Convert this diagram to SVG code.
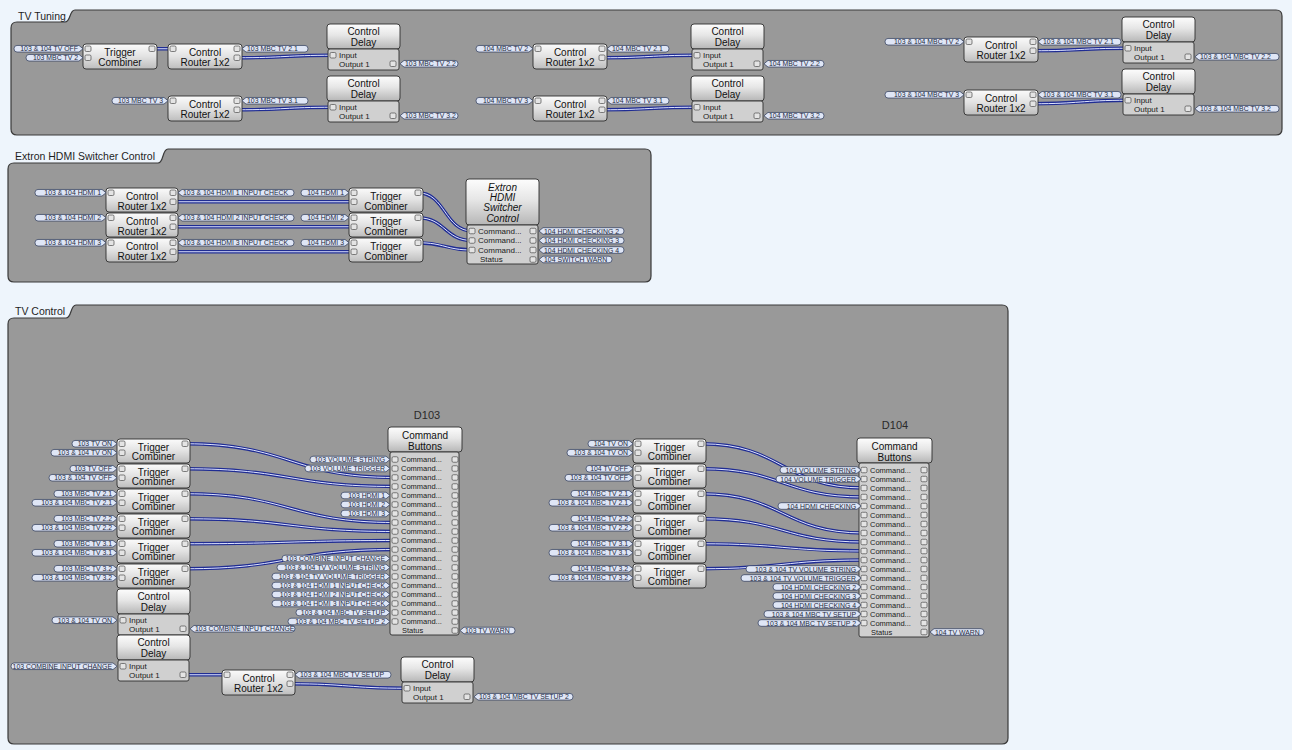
<svg xmlns="http://www.w3.org/2000/svg" xmlns:xlink="http://www.w3.org/1999/xlink" width="1292" height="750" viewBox="0 0 1292 750">
<style>
.bg{fill:#eef5fc}
.grp{fill:#999;stroke:#3a3a3a;stroke-width:1.2}
.gt{font-family:"Liberation Sans",Arial,sans-serif;font-size:10.5px;fill:#1e1e1e}
.nb{fill:url(#ng);stroke:#2e2e2e;stroke-width:.9}
.hd{fill:url(#hg);stroke:#2e2e2e;stroke-width:.9}
.bd{fill:#d0d0d0;stroke:#2e2e2e;stroke-width:.9}
.pt{fill:#e4e4e4;stroke:#4a4a4a;stroke-width:.7}
.nt{font-family:"Liberation Sans",Arial,sans-serif;font-size:10px;fill:#111;text-anchor:middle}
.it{font-style:italic}
.rt{font-family:"Liberation Sans",Arial,sans-serif;font-size:7.5px;fill:#1a1a1a}
.io{font-family:"Liberation Sans",Arial,sans-serif;font-size:8px;fill:#1a1a1a}
.lb{fill:#dfe6f6;stroke:#34405f;stroke-width:.75}
.lt{font-family:"Liberation Sans",Arial,sans-serif;font-size:6.9px;fill:#262b40}
.le{text-anchor:end}
.wo{fill:none;stroke:#1f2c93;stroke-width:3.3;stroke-linecap:round}
.wi{fill:none;stroke:#e0e5ff;stroke-width:1}
.dt{font-family:"Liberation Sans",Arial,sans-serif;font-size:11px;fill:#2a2a2a;text-anchor:middle}
</style>
<defs>
<linearGradient id="ng" x1="0" y1="0" x2="0" y2="1"><stop offset="0" stop-color="#fbfbfb"/><stop offset=".5" stop-color="#e2e2e2"/><stop offset="1" stop-color="#bdbdbd"/></linearGradient>
<linearGradient id="hg" x1="0" y1="0" x2="0" y2="1"><stop offset="0" stop-color="#fdfdfd"/><stop offset=".45" stop-color="#e6e6e6"/><stop offset="1" stop-color="#b6b6b6"/></linearGradient>
<rect id="p" class="pt" width="6" height="5.5" rx="1.3"/>
</defs>
<rect class="bg" x="0" y="0" width="1292" height="750"/>

<g id="groups">
<g id="grp-tv-tuning"><path class="grp" d="M11,28Q11,22 17,22H65C71,22 69,10 75,10H1276Q1282,10 1282,16V129Q1282,135 1276,135H17Q11,135 11,129Z"/><text class="gt" x="18" y="19.5">TV Tuning</text></g>
<g id="grp-extron"><path class="grp" d="M8,169Q8,163 14,163H158C164,163 162,149 168,149H645Q651,149 651,155V276Q651,282 645,282H14Q8,282 8,276Z"/><text class="gt" x="15" y="160">Extron HDMI Switcher Control</text></g>
<g id="grp-tv-control"><path class="grp" d="M8,324Q8,318 14,318H66C72,318 70,305 76,305H1002Q1008,305 1008,311V738Q1008,744 1002,744H14Q8,744 8,738Z"/><text class="gt" x="15" y="315">TV Control</text></g>
</g>

<g id="connectors">
<path class="wo" d="M152,48.75H173"/><path class="wi" d="M152,48.75H173"/>
<path class="wo" d="M237,57.75C285,57.75 285,55.25 333,55.25"/><path class="wi" d="M237,57.75C285,57.75 285,55.25 333,55.25"/>
<path class="wo" d="M237,109.75C285,109.75 285,107.25 333,107.25"/><path class="wi" d="M237,109.75C285,109.75 285,107.25 333,107.25"/>
<path class="wo" d="M602,57.75C649,57.75 649,55.25 697,55.25"/><path class="wi" d="M602,57.75C649,57.75 649,55.25 697,55.25"/>
<path class="wo" d="M602,109.75C649,109.75 649,107.25 697,107.25"/><path class="wi" d="M602,109.75C649,109.75 649,107.25 697,107.25"/>
<path class="wo" d="M1033,50.75C1080,50.75 1080,48.25 1128,48.25"/><path class="wi" d="M1033,50.75C1080,50.75 1080,48.25 1128,48.25"/>
<path class="wo" d="M1033,103.75C1080,103.75 1080,100.25 1128,100.25"/><path class="wi" d="M1033,103.75C1080,103.75 1080,100.25 1128,100.25"/>
<path class="wo" d="M173,201.75H354"/><path class="wi" d="M173,201.75H354"/>
<path class="wo" d="M173,226.75H354"/><path class="wi" d="M173,226.75H354"/>
<path class="wo" d="M173,251.75H354"/><path class="wi" d="M173,251.75H354"/>
<path class="wo" d="M418,192.75C445,192.75 445,231 472,231"/><path class="wi" d="M418,192.75C445,192.75 445,231 472,231"/>
<path class="wo" d="M418,217.75C445,217.75 445,240.5 472,240.5"/><path class="wi" d="M418,217.75C445,217.75 445,240.5 472,240.5"/>
<path class="wo" d="M418,242.75C445,242.75 445,250 472,250"/><path class="wi" d="M418,242.75C445,242.75 445,250 472,250"/>
<path class="wo" d="M185,443.75C290,443.75 290,477.5 395,477.5"/><path class="wi" d="M185,443.75C290,443.75 290,477.5 395,477.5"/>
<path class="wo" d="M185,468.75C290,468.75 290,486.5 395,486.5"/><path class="wi" d="M185,468.75C290,468.75 290,486.5 395,486.5"/>
<path class="wo" d="M185,493.75C290,493.75 290,522.5 395,522.5"/><path class="wi" d="M185,493.75C290,493.75 290,522.5 395,522.5"/>
<path class="wo" d="M185,518.75C290,518.75 290,531.5 395,531.5"/><path class="wi" d="M185,518.75C290,518.75 290,531.5 395,531.5"/>
<path class="wo" d="M185,543.75C290,543.75 290,540.5 395,540.5"/><path class="wi" d="M185,543.75C290,543.75 290,540.5 395,540.5"/>
<path class="wo" d="M185,568.75C290,568.75 290,549.5 395,549.5"/><path class="wi" d="M185,568.75C290,568.75 290,549.5 395,549.5"/>
<path class="wo" d="M701,443.75C783,443.75 783,488 864,488"/><path class="wi" d="M701,443.75C783,443.75 783,488 864,488"/>
<path class="wo" d="M701,468.75C783,468.75 783,497 864,497"/><path class="wi" d="M701,468.75C783,468.75 783,497 864,497"/>
<path class="wo" d="M701,493.75C783,493.75 783,533 864,533"/><path class="wi" d="M701,493.75C783,493.75 783,533 864,533"/>
<path class="wo" d="M701,518.75C783,518.75 783,542 864,542"/><path class="wi" d="M701,518.75C783,518.75 783,542 864,542"/>
<path class="wo" d="M701,543.75C783,543.75 783,551 864,551"/><path class="wi" d="M701,543.75C783,543.75 783,551 864,551"/>
<path class="wo" d="M701,568.75C783,568.75 783,560 864,560"/><path class="wi" d="M701,568.75C783,568.75 783,560 864,560"/>
<path class="wo" d="M183,674.75H227"/><path class="wi" d="M183,674.75H227"/>
<path class="wo" d="M290,683.75C348,683.75 348,688.25 407,688.25"/><path class="wi" d="M290,683.75C348,683.75 348,688.25 407,688.25"/>
</g>

<!-- TV Tuning -->
<g id="tc-t1"><rect class="nb" x="83" y="44" width="74" height="25" rx="3"/><use href="#p" x="85" y="46"/><use href="#p" x="85" y="55"/><use href="#p" x="149" y="46"/><text class="nt" x="120" y="55.5">Trigger</text><text class="nt" x="120" y="65.5">Combiner</text>
<path class="lb" d="M17,45.45H79L83,48.75L79,52.05H17A3 3.3 0 0 1 17,45.45Z"/><text class="lt le" x="78" y="51.25">103 &amp; 104 TV OFF</text>
<path class="lb" d="M29,54.45H79L83,57.75L79,61.05H29A3 3.3 0 0 1 29,54.45Z"/><text class="lt le" x="78" y="60.25">103 MBC TV 2</text></g>
<g id="rt-t1"><rect class="nb" x="168" y="44" width="74" height="25" rx="3"/><use href="#p" x="170" y="46"/><use href="#p" x="234" y="46"/><use href="#p" x="234" y="55"/><text class="nt" x="205" y="55.5">Control</text><text class="nt" x="205" y="65.5">Router 1x2</text>
<path class="lb" d="M242,48.75L246,45.45H305A3 3.3 0 0 1 305,52.05H246Z"/><text class="lt" x="247" y="51.25">103 MBC TV 2.1</text></g>
<g id="dl-t1"><rect class="hd" x="327" y="24" width="73" height="25" rx="3"/><rect class="bd" x="328" y="49" width="71" height="21" rx="2"/><text class="nt" x="363.5" y="35">Control</text><text class="nt" x="363.5" y="46">Delay</text><use href="#p" x="330" y="52.5"/><use href="#p" x="390" y="61"/><text class="io" x="339" y="58">Input</text><text class="io" x="339" y="67">Output 1</text>
<path class="lb" d="M400,63.75L404,60.45H455A3 3.3 0 0 1 455,67.05H404Z"/><text class="lt" x="405" y="66.25">103 MBC TV 2.2</text></g>
<g id="rt-t2"><rect class="nb" x="168" y="96" width="74" height="25" rx="3"/><use href="#p" x="170" y="98"/><use href="#p" x="234" y="98"/><use href="#p" x="234" y="107"/><text class="nt" x="205" y="107.5">Control</text><text class="nt" x="205" y="117.5">Router 1x2</text>
<path class="lb" d="M115,97.45H164L168,100.75L164,104.05H115A3 3.3 0 0 1 115,97.45Z"/><text class="lt le" x="163" y="103.25">103 MBC TV 3</text>
<path class="lb" d="M242,100.75L246,97.45H305A3 3.3 0 0 1 305,104.05H246Z"/><text class="lt" x="247" y="103.25">103 MBC TV 3.1</text></g>
<g id="dl-t2"><rect class="hd" x="327" y="76" width="73" height="25" rx="3"/><rect class="bd" x="328" y="101" width="71" height="21" rx="2"/><text class="nt" x="363.5" y="87">Control</text><text class="nt" x="363.5" y="98">Delay</text><use href="#p" x="330" y="104.5"/><use href="#p" x="390" y="113"/><text class="io" x="339" y="110">Input</text><text class="io" x="339" y="119">Output 1</text>
<path class="lb" d="M400,115.75L404,112.45H455A3 3.3 0 0 1 455,119.05H404Z"/><text class="lt" x="405" y="118.25">103 MBC TV 3.2</text></g>

<g id="rt-t3"><rect class="nb" x="533" y="44" width="74" height="25" rx="3"/><use href="#p" x="535" y="46"/><use href="#p" x="599" y="46"/><use href="#p" x="599" y="55"/><text class="nt" x="570" y="55.5">Control</text><text class="nt" x="570" y="65.5">Router 1x2</text>
<path class="lb" d="M479,45.45H529L533,48.75L529,52.05H479A3 3.3 0 0 1 479,45.45Z"/><text class="lt le" x="528" y="51.25">104 MBC TV 2</text>
<path class="lb" d="M607,48.75L611,45.45H666A3 3.3 0 0 1 666,52.05H611Z"/><text class="lt" x="612" y="51.25">104 MBC TV 2.1</text></g>
<g id="dl-t3"><rect class="hd" x="691" y="24" width="73" height="25" rx="3"/><rect class="bd" x="692" y="49" width="71" height="21" rx="2"/><text class="nt" x="727.5" y="35">Control</text><text class="nt" x="727.5" y="46">Delay</text><use href="#p" x="694" y="52.5"/><use href="#p" x="754" y="61"/><text class="io" x="703" y="58">Input</text><text class="io" x="703" y="67">Output 1</text>
<path class="lb" d="M764,63.75L768,60.45H821A3 3.3 0 0 1 821,67.05H768Z"/><text class="lt" x="769" y="66.25">104 MBC TV 2.2</text></g>
<g id="rt-t4"><rect class="nb" x="533" y="96" width="74" height="25" rx="3"/><use href="#p" x="535" y="98"/><use href="#p" x="599" y="98"/><use href="#p" x="599" y="107"/><text class="nt" x="570" y="107.5">Control</text><text class="nt" x="570" y="117.5">Router 1x2</text>
<path class="lb" d="M479,97.45H529L533,100.75L529,104.05H479A3 3.3 0 0 1 479,97.45Z"/><text class="lt le" x="528" y="103.25">104 MBC TV 3</text>
<path class="lb" d="M607,100.75L611,97.45H666A3 3.3 0 0 1 666,104.05H611Z"/><text class="lt" x="612" y="103.25">104 MBC TV 3.1</text></g>
<g id="dl-t4"><rect class="hd" x="691" y="76" width="73" height="25" rx="3"/><rect class="bd" x="692" y="101" width="71" height="21" rx="2"/><text class="nt" x="727.5" y="87">Control</text><text class="nt" x="727.5" y="98">Delay</text><use href="#p" x="694" y="104.5"/><use href="#p" x="754" y="113"/><text class="io" x="703" y="110">Input</text><text class="io" x="703" y="119">Output 1</text>
<path class="lb" d="M764,115.75L768,112.45H821A3 3.3 0 0 1 821,119.05H768Z"/><text class="lt" x="769" y="118.25">104 MBC TV 3.2</text></g>

<g id="rt-t5"><rect class="nb" x="964" y="37" width="74" height="25" rx="3"/><use href="#p" x="966" y="39"/><use href="#p" x="1030" y="39"/><use href="#p" x="1030" y="48"/><text class="nt" x="1001" y="48.5">Control</text><text class="nt" x="1001" y="58.5">Router 1x2</text>
<path class="lb" d="M888,38.45H960L964,41.75L960,45.05H888A3 3.3 0 0 1 888,38.45Z"/><text class="lt le" x="959" y="44.25">103 &amp; 104 MBC TV 2</text>
<path class="lb" d="M1038,41.75L1042,38.45H1118A3 3.3 0 0 1 1118,45.05H1042Z"/><text class="lt" x="1043" y="44.25">103 &amp; 104 MBC TV 2.1</text></g>
<g id="dl-t5"><rect class="hd" x="1122" y="17" width="73" height="25" rx="3"/><rect class="bd" x="1123" y="42" width="71" height="21" rx="2"/><text class="nt" x="1158.5" y="28">Control</text><text class="nt" x="1158.5" y="39">Delay</text><use href="#p" x="1125" y="45.5"/><use href="#p" x="1185" y="54"/><text class="io" x="1134" y="51">Input</text><text class="io" x="1134" y="60">Output 1</text>
<path class="lb" d="M1195,56.75L1199,53.45H1276A3 3.3 0 0 1 1276,60.05H1199Z"/><text class="lt" x="1200" y="59.25">103 &amp; 104 MBC TV 2.2</text></g>
<g id="rt-t6"><rect class="nb" x="964" y="90" width="74" height="25" rx="3"/><use href="#p" x="966" y="92"/><use href="#p" x="1030" y="92"/><use href="#p" x="1030" y="101"/><text class="nt" x="1001" y="101.5">Control</text><text class="nt" x="1001" y="111.5">Router 1x2</text>
<path class="lb" d="M888,91.45H960L964,94.75L960,98.05H888A3 3.3 0 0 1 888,91.45Z"/><text class="lt le" x="959" y="97.25">103 &amp; 104 MBC TV 3</text>
<path class="lb" d="M1038,94.75L1042,91.45H1118A3 3.3 0 0 1 1118,98.05H1042Z"/><text class="lt" x="1043" y="97.25">103 &amp; 104 MBC TV 3.1</text></g>
<g id="dl-t6"><rect class="hd" x="1122" y="69" width="73" height="25" rx="3"/><rect class="bd" x="1123" y="94" width="71" height="21" rx="2"/><text class="nt" x="1158.5" y="80">Control</text><text class="nt" x="1158.5" y="91">Delay</text><use href="#p" x="1125" y="97.5"/><use href="#p" x="1185" y="106"/><text class="io" x="1134" y="103">Input</text><text class="io" x="1134" y="112">Output 1</text>
<path class="lb" d="M1195,108.75L1199,105.45H1276A3 3.3 0 0 1 1276,112.05H1199Z"/><text class="lt" x="1200" y="111.25">103 &amp; 104 MBC TV 3.2</text></g>

<!-- Extron -->
<g id="rt-e1"><rect class="nb" x="106" y="188" width="72" height="24" rx="3"/><use href="#p" x="108" y="190"/><use href="#p" x="170" y="190"/><use href="#p" x="170" y="199"/><text class="nt" x="142" y="199.5">Control</text><text class="nt" x="142" y="209.5">Router 1x2</text>
<path class="lb" d="M38,189.45H102L106,192.75L102,196.05H38A3 3.3 0 0 1 38,189.45Z"/><text class="lt le" x="101" y="195.25">103 &amp; 104 HDMI 1</text>
<path class="lb" d="M178,192.75L182,189.45H291A3 3.3 0 0 1 291,196.05H182Z"/><text class="lt" x="183" y="195.25">103 &amp; 104 HDMI 1 INPUT CHECK</text></g>
<g id="rt-e2"><rect class="nb" x="106" y="213" width="72" height="24" rx="3"/><use href="#p" x="108" y="215"/><use href="#p" x="170" y="215"/><use href="#p" x="170" y="224"/><text class="nt" x="142" y="224.5">Control</text><text class="nt" x="142" y="234.5">Router 1x2</text>
<path class="lb" d="M38,214.45H102L106,217.75L102,221.05H38A3 3.3 0 0 1 38,214.45Z"/><text class="lt le" x="101" y="220.25">103 &amp; 104 HDMI 2</text>
<path class="lb" d="M178,217.75L182,214.45H291A3 3.3 0 0 1 291,221.05H182Z"/><text class="lt" x="183" y="220.25">103 &amp; 104 HDMI 2 INPUT CHECK</text></g>
<g id="rt-e3"><rect class="nb" x="106" y="238" width="72" height="24" rx="3"/><use href="#p" x="108" y="240"/><use href="#p" x="170" y="240"/><use href="#p" x="170" y="249"/><text class="nt" x="142" y="249.5">Control</text><text class="nt" x="142" y="259.5">Router 1x2</text>
<path class="lb" d="M38,239.45H102L106,242.75L102,246.05H38A3 3.3 0 0 1 38,239.45Z"/><text class="lt le" x="101" y="245.25">103 &amp; 104 HDMI 3</text>
<path class="lb" d="M178,242.75L182,239.45H291A3 3.3 0 0 1 291,246.05H182Z"/><text class="lt" x="183" y="245.25">103 &amp; 104 HDMI 3 INPUT CHECK</text></g>
<g id="tc-e1"><rect class="nb" x="349" y="188" width="74" height="24" rx="3"/><use href="#p" x="351" y="190"/><use href="#p" x="351" y="199"/><use href="#p" x="415" y="190"/><text class="nt" x="386" y="199.5">Trigger</text><text class="nt" x="386" y="209.5">Combiner</text>
<path class="lb" d="M304,189.45H345L349,192.75L345,196.05H304A3 3.3 0 0 1 304,189.45Z"/><text class="lt le" x="344" y="195.25">104 HDMI 1</text></g>
<g id="tc-e2"><rect class="nb" x="349" y="213" width="74" height="24" rx="3"/><use href="#p" x="351" y="215"/><use href="#p" x="351" y="224"/><use href="#p" x="415" y="215"/><text class="nt" x="386" y="224.5">Trigger</text><text class="nt" x="386" y="234.5">Combiner</text>
<path class="lb" d="M304,214.45H345L349,217.75L345,221.05H304A3 3.3 0 0 1 304,214.45Z"/><text class="lt le" x="344" y="220.25">104 HDMI 2</text></g>
<g id="tc-e3"><rect class="nb" x="349" y="238" width="74" height="24" rx="3"/><use href="#p" x="351" y="240"/><use href="#p" x="351" y="249"/><use href="#p" x="415" y="240"/><text class="nt" x="386" y="249.5">Trigger</text><text class="nt" x="386" y="259.5">Combiner</text>
<path class="lb" d="M304,239.45H345L349,242.75L345,246.05H304A3 3.3 0 0 1 304,239.45Z"/><text class="lt le" x="344" y="245.25">104 HDMI 3</text></g>
<g id="extron"><rect class="hd" x="466" y="179" width="73" height="46" rx="3"/><rect class="bd" x="467" y="225" width="71" height="39" rx="2"/>
<text class="nt it" x="502.5" y="190.5">Extron</text><text class="nt it" x="502.5" y="201">HDMI</text><text class="nt it" x="502.5" y="211">Switcher</text><text class="nt it" x="502.5" y="221.5">Control</text>
<use href="#p" x="469" y="228.25"/><use href="#p" x="469" y="237.75"/><use href="#p" x="469" y="247.25"/>
<use href="#p" x="530" y="228.25"/><use href="#p" x="530" y="237.75"/><use href="#p" x="530" y="247.25"/><use href="#p" x="530" y="256.75"/>
<text class="io" x="478" y="233.8">Command...</text><text class="io" x="478" y="243.3">Command...</text><text class="io" x="478" y="252.8">Command...</text><text class="io" x="480" y="262.3">Status</text>
<path class="lb" d="M539,231L543,227.7H621A3 3.3 0 0 1 621,234.3H543Z"/><text class="lt" x="544" y="233.5">104 HDMI CHECKING 2</text>
<path class="lb" d="M539,240.5L543,237.2H621A3 3.3 0 0 1 621,243.8H543Z"/><text class="lt" x="544" y="243">104 HDMI CHECKING 3</text>
<path class="lb" d="M539,250L543,246.7H621A3 3.3 0 0 1 621,253.3H543Z"/><text class="lt" x="544" y="252.5">104 HDMI CHECKING 4</text>
<path class="lb" d="M539,259.5L543,256.2H609A3 3.3 0 0 1 609,262.8H543Z"/><text class="lt" x="544" y="262">104 SWITCH WARN</text></g>

<!-- TV Control: D103 side -->
<g id="tc-a1"><rect class="nb" x="117" y="439" width="73" height="24" rx="3"/><use href="#p" x="119" y="441"/><use href="#p" x="119" y="450"/><use href="#p" x="182" y="441"/><text class="nt" x="153.5" y="450.5">Trigger</text><text class="nt" x="153.5" y="460">Combiner</text>
<path class="lb" d="M75,440.45H113L117,443.75L113,447.05H75A3 3.3 0 0 1 75,440.45Z"/><text class="lt le" x="112" y="446.25">103 TV ON</text>
<path class="lb" d="M54,449.45H113L117,452.75L113,456.05H54A3 3.3 0 0 1 54,449.45Z"/><text class="lt le" x="112" y="455.25">103 &amp; 104 TV ON</text></g>
<g id="tc-a2"><rect class="nb" x="117" y="464" width="73" height="24" rx="3"/><use href="#p" x="119" y="466"/><use href="#p" x="119" y="475"/><use href="#p" x="182" y="466"/><text class="nt" x="153.5" y="475.5">Trigger</text><text class="nt" x="153.5" y="485">Combiner</text>
<path class="lb" d="M73,465.45H113L117,468.75L113,472.05H73A3 3.3 0 0 1 73,465.45Z"/><text class="lt le" x="112" y="471.25">103 TV OFF</text>
<path class="lb" d="M52,474.45H113L117,477.75L113,481.05H52A3 3.3 0 0 1 52,474.45Z"/><text class="lt le" x="112" y="480.25">103 &amp; 104 TV OFF</text></g>
<g id="tc-a3"><rect class="nb" x="117" y="489" width="73" height="24" rx="3"/><use href="#p" x="119" y="491"/><use href="#p" x="119" y="500"/><use href="#p" x="182" y="491"/><text class="nt" x="153.5" y="500.5">Trigger</text><text class="nt" x="153.5" y="510">Combiner</text>
<path class="lb" d="M57,490.45H113L117,493.75L113,497.05H57A3 3.3 0 0 1 57,490.45Z"/><text class="lt le" x="112" y="496.25">103 MBC TV 2.1</text>
<path class="lb" d="M35,499.45H113L117,502.75L113,506.05H35A3 3.3 0 0 1 35,499.45Z"/><text class="lt le" x="112" y="505.25">103 &amp; 104 MBC TV 2.1</text></g>
<g id="tc-a4"><rect class="nb" x="117" y="514" width="73" height="24" rx="3"/><use href="#p" x="119" y="516"/><use href="#p" x="119" y="525"/><use href="#p" x="182" y="516"/><text class="nt" x="153.5" y="525.5">Trigger</text><text class="nt" x="153.5" y="535">Combiner</text>
<path class="lb" d="M57,515.45H113L117,518.75L113,522.05H57A3 3.3 0 0 1 57,515.45Z"/><text class="lt le" x="112" y="521.25">103 MBC TV 2.2</text>
<path class="lb" d="M35,524.45H113L117,527.75L113,531.05H35A3 3.3 0 0 1 35,524.45Z"/><text class="lt le" x="112" y="530.25">103 &amp; 104 MBC TV 2.2</text></g>
<g id="tc-a5"><rect class="nb" x="117" y="539" width="73" height="24" rx="3"/><use href="#p" x="119" y="541"/><use href="#p" x="119" y="550"/><use href="#p" x="182" y="541"/><text class="nt" x="153.5" y="550.5">Trigger</text><text class="nt" x="153.5" y="560">Combiner</text>
<path class="lb" d="M57,540.45H113L117,543.75L113,547.05H57A3 3.3 0 0 1 57,540.45Z"/><text class="lt le" x="112" y="546.25">103 MBC TV 3.1</text>
<path class="lb" d="M35,549.45H113L117,552.75L113,556.05H35A3 3.3 0 0 1 35,549.45Z"/><text class="lt le" x="112" y="555.25">103 &amp; 104 MBC TV 3.1</text></g>
<g id="tc-a6"><rect class="nb" x="117" y="564" width="73" height="24" rx="3"/><use href="#p" x="119" y="566"/><use href="#p" x="119" y="575"/><use href="#p" x="182" y="566"/><text class="nt" x="153.5" y="575.5">Trigger</text><text class="nt" x="153.5" y="585">Combiner</text>
<path class="lb" d="M57,565.45H113L117,568.75L113,572.05H57A3 3.3 0 0 1 57,565.45Z"/><text class="lt le" x="112" y="571.25">103 MBC TV 3.2</text>
<path class="lb" d="M35,574.45H113L117,577.75L113,581.05H35A3 3.3 0 0 1 35,574.45Z"/><text class="lt le" x="112" y="580.25">103 &amp; 104 MBC TV 3.2</text></g>

<g id="dl-a1"><rect class="hd" x="117" y="589" width="73" height="25" rx="3"/><rect class="bd" x="118" y="614" width="71" height="21" rx="2"/><text class="nt" x="153.5" y="600">Control</text><text class="nt" x="153.5" y="611">Delay</text><use href="#p" x="120" y="617.5"/><use href="#p" x="180" y="626"/><text class="io" x="129" y="623">Input</text><text class="io" x="129" y="632">Output 1</text>
<path class="lb" d="M55,616.95H113L117,620.25L113,623.55H55A3 3.3 0 0 1 55,616.95Z"/><text class="lt le" x="112" y="622.75">103 &amp; 104 TV ON</text>
<path class="lb" d="M190,628.75L194,625.45H292A3 3.3 0 0 1 292,632.05H194Z"/><text class="lt" x="195" y="631.25">103 COMBINE INPUT CHANGE</text></g>
<g id="dl-a2"><rect class="hd" x="117" y="635" width="73" height="25" rx="3"/><rect class="bd" x="118" y="660" width="71" height="21" rx="2"/><text class="nt" x="153.5" y="646">Control</text><text class="nt" x="153.5" y="657">Delay</text><use href="#p" x="120" y="663.5"/><use href="#p" x="180" y="672"/><text class="io" x="129" y="669">Input</text><text class="io" x="129" y="678">Output 1</text>
<path class="lb" d="M14,662.95H113L117,666.25L113,669.55H14A3 3.3 0 0 1 14,662.95Z"/><text class="lt le" x="112" y="668.75">103 COMBINE INPUT CHANGE</text></g>
<g id="rt-a"><rect class="nb" x="222" y="670" width="73" height="25" rx="3"/><use href="#p" x="224" y="672"/><use href="#p" x="287" y="672"/><use href="#p" x="287" y="681"/><text class="nt" x="258.5" y="681.5">Control</text><text class="nt" x="258.5" y="691.5">Router 1x2</text>
<path class="lb" d="M295,674.75L299,671.45H388A3 3.3 0 0 1 388,678.05H299Z"/><text class="lt" x="300" y="677.25">103 &amp; 104 MBC TV SETUP</text></g>
<g id="dl-a3"><rect class="hd" x="401" y="657" width="73" height="25" rx="3"/><rect class="bd" x="402" y="682" width="71" height="21" rx="2"/><text class="nt" x="437.5" y="668">Control</text><text class="nt" x="437.5" y="679">Delay</text><use href="#p" x="404" y="685.5"/><use href="#p" x="464" y="694"/><text class="io" x="413" y="691">Input</text><text class="io" x="413" y="700">Output 1</text>
<path class="lb" d="M474,696.75L478,693.45H570A3 3.3 0 0 1 570,700.05H478Z"/><text class="lt" x="479" y="699.25">103 &amp; 104 MBC TV SETUP 2</text></g>

<g id="d103"><text class="dt" x="427" y="419">D103</text>
<rect class="hd" x="388" y="427" width="74" height="25" rx="3"/><rect class="bd" x="390" y="452" width="69" height="183" rx="2"/>
<text class="nt" x="425" y="438.5">Command</text><text class="nt" x="425" y="449.5">Buttons</text>
<use href="#p" x="392" y="456.75"/><text class="rt" x="401" y="462.2">Command...</text><use href="#p" x="452" y="456.75"/>
<use href="#p" x="392" y="465.75"/><text class="rt" x="401" y="471.2">Command...</text><use href="#p" x="452" y="465.75"/>
<use href="#p" x="392" y="474.75"/><text class="rt" x="401" y="480.2">Command...</text><use href="#p" x="452" y="474.75"/>
<use href="#p" x="392" y="483.75"/><text class="rt" x="401" y="489.2">Command...</text><use href="#p" x="452" y="483.75"/>
<use href="#p" x="392" y="492.75"/><text class="rt" x="401" y="498.2">Command...</text><use href="#p" x="452" y="492.75"/>
<use href="#p" x="392" y="501.75"/><text class="rt" x="401" y="507.2">Command...</text><use href="#p" x="452" y="501.75"/>
<use href="#p" x="392" y="510.75"/><text class="rt" x="401" y="516.2">Command...</text><use href="#p" x="452" y="510.75"/>
<use href="#p" x="392" y="519.75"/><text class="rt" x="401" y="525.2">Command...</text><use href="#p" x="452" y="519.75"/>
<use href="#p" x="392" y="528.75"/><text class="rt" x="401" y="534.2">Command...</text><use href="#p" x="452" y="528.75"/>
<use href="#p" x="392" y="537.75"/><text class="rt" x="401" y="543.2">Command...</text><use href="#p" x="452" y="537.75"/>
<use href="#p" x="392" y="546.75"/><text class="rt" x="401" y="552.2">Command...</text><use href="#p" x="452" y="546.75"/>
<use href="#p" x="392" y="555.75"/><text class="rt" x="401" y="561.2">Command...</text><use href="#p" x="452" y="555.75"/>
<use href="#p" x="392" y="564.75"/><text class="rt" x="401" y="570.2">Command...</text><use href="#p" x="452" y="564.75"/>
<use href="#p" x="392" y="573.75"/><text class="rt" x="401" y="579.2">Command...</text><use href="#p" x="452" y="573.75"/>
<use href="#p" x="392" y="582.75"/><text class="rt" x="401" y="588.2">Command...</text><use href="#p" x="452" y="582.75"/>
<use href="#p" x="392" y="591.75"/><text class="rt" x="401" y="597.2">Command...</text><use href="#p" x="452" y="591.75"/>
<use href="#p" x="392" y="600.75"/><text class="rt" x="401" y="606.2">Command...</text><use href="#p" x="452" y="600.75"/>
<use href="#p" x="392" y="609.75"/><text class="rt" x="401" y="615.2">Command...</text><use href="#p" x="452" y="609.75"/>
<use href="#p" x="392" y="618.75"/><text class="rt" x="401" y="624.2">Command...</text><use href="#p" x="452" y="618.75"/>
<text class="rt" x="402" y="633.2">Status</text><use href="#p" x="452" y="627.75"/>
<path class="lb" d="M313,456.2H386L390,459.5L386,462.8H313A3 3.3 0 0 1 313,456.2Z"/><text class="lt le" x="385" y="462">103 VOLUME STRING</text>
<path class="lb" d="M308,465.2H386L390,468.5L386,471.8H308A3 3.3 0 0 1 308,465.2Z"/><text class="lt le" x="385" y="471">103 VOLUME TRIGGER</text>
<path class="lb" d="M344,492.2H386L390,495.5L386,498.8H344A3 3.3 0 0 1 344,492.2Z"/><text class="lt le" x="385" y="498">103 HDMI 1</text>
<path class="lb" d="M344,501.2H386L390,504.5L386,507.8H344A3 3.3 0 0 1 344,501.2Z"/><text class="lt le" x="385" y="507">103 HDMI 2</text>
<path class="lb" d="M344,510.2H386L390,513.5L386,516.8H344A3 3.3 0 0 1 344,510.2Z"/><text class="lt le" x="385" y="516">103 HDMI 3</text>
<path class="lb" d="M285,555.2H386L390,558.5L386,561.8H285A3 3.3 0 0 1 285,555.2Z"/><text class="lt le" x="385" y="561">103 COMBINE INPUT CHANGE</text>
<path class="lb" d="M280,564.2H386L390,567.5L386,570.8H280A3 3.3 0 0 1 280,564.2Z"/><text class="lt le" x="385" y="570">103 &amp; 104 TV VOLUME STRING</text>
<path class="lb" d="M275,573.2H386L390,576.5L386,579.8H275A3 3.3 0 0 1 275,573.2Z"/><text class="lt le" x="385" y="579">103 &amp; 104 TV VOLUME TRIGGER</text>
<path class="lb" d="M275,582.2H386L390,585.5L386,588.8H275A3 3.3 0 0 1 275,582.2Z"/><text class="lt le" x="385" y="588">103 &amp; 104 HDMI 1 INPUT CHECK</text>
<path class="lb" d="M275,591.2H386L390,594.5L386,597.8H275A3 3.3 0 0 1 275,591.2Z"/><text class="lt le" x="385" y="597">103 &amp; 104 HDMI 2 INPUT CHECK</text>
<path class="lb" d="M275,600.2H386L390,603.5L386,606.8H275A3 3.3 0 0 1 275,600.2Z"/><text class="lt le" x="385" y="606">103 &amp; 104 HDMI 3 INPUT CHECK</text>
<path class="lb" d="M299,609.2H386L390,612.5L386,615.8H299A3 3.3 0 0 1 299,609.2Z"/><text class="lt le" x="385" y="615">103 &amp; 104 MBC TV SETUP</text>
<path class="lb" d="M291,618.2H386L390,621.5L386,624.8H291A3 3.3 0 0 1 291,618.2Z"/><text class="lt le" x="385" y="624">103 &amp; 104 MBC TV SETUP 2</text>
<path class="lb" d="M460,630.5L464,627.2H512A3 3.3 0 0 1 512,633.8H464Z"/><text class="lt" x="465" y="633">103 TV WARN</text></g>

<!-- TV Control: D104 side -->
<g id="tc-b1"><rect class="nb" x="633" y="439" width="73" height="24" rx="3"/><use href="#p" x="635" y="441"/><use href="#p" x="635" y="450"/><use href="#p" x="698" y="441"/><text class="nt" x="669.5" y="450.5">Trigger</text><text class="nt" x="669.5" y="460">Combiner</text>
<path class="lb" d="M591,440.45H629L633,443.75L629,447.05H591A3 3.3 0 0 1 591,440.45Z"/><text class="lt le" x="628" y="446.25">104 TV ON</text>
<path class="lb" d="M570,449.45H629L633,452.75L629,456.05H570A3 3.3 0 0 1 570,449.45Z"/><text class="lt le" x="628" y="455.25">103 &amp; 104 TV ON</text></g>
<g id="tc-b2"><rect class="nb" x="633" y="464" width="73" height="24" rx="3"/><use href="#p" x="635" y="466"/><use href="#p" x="635" y="475"/><use href="#p" x="698" y="466"/><text class="nt" x="669.5" y="475.5">Trigger</text><text class="nt" x="669.5" y="485">Combiner</text>
<path class="lb" d="M589,465.45H629L633,468.75L629,472.05H589A3 3.3 0 0 1 589,465.45Z"/><text class="lt le" x="628" y="471.25">104 TV OFF</text>
<path class="lb" d="M568,474.45H629L633,477.75L629,481.05H568A3 3.3 0 0 1 568,474.45Z"/><text class="lt le" x="628" y="480.25">103 &amp; 104 TV OFF</text></g>
<g id="tc-b3"><rect class="nb" x="633" y="489" width="73" height="24" rx="3"/><use href="#p" x="635" y="491"/><use href="#p" x="635" y="500"/><use href="#p" x="698" y="491"/><text class="nt" x="669.5" y="500.5">Trigger</text><text class="nt" x="669.5" y="510">Combiner</text>
<path class="lb" d="M574,490.45H629L633,493.75L629,497.05H574A3 3.3 0 0 1 574,490.45Z"/><text class="lt le" x="628" y="496.25">104 MBC TV 2.1</text>
<path class="lb" d="M552,499.45H629L633,502.75L629,506.05H552A3 3.3 0 0 1 552,499.45Z"/><text class="lt le" x="628" y="505.25">103 &amp; 104 MBC TV 2.1</text></g>
<g id="tc-b4"><rect class="nb" x="633" y="514" width="73" height="24" rx="3"/><use href="#p" x="635" y="516"/><use href="#p" x="635" y="525"/><use href="#p" x="698" y="516"/><text class="nt" x="669.5" y="525.5">Trigger</text><text class="nt" x="669.5" y="535">Combiner</text>
<path class="lb" d="M574,515.45H629L633,518.75L629,522.05H574A3 3.3 0 0 1 574,515.45Z"/><text class="lt le" x="628" y="521.25">104 MBC TV 2.2</text>
<path class="lb" d="M552,524.45H629L633,527.75L629,531.05H552A3 3.3 0 0 1 552,524.45Z"/><text class="lt le" x="628" y="530.25">103 &amp; 104 MBC TV 2.2</text></g>
<g id="tc-b5"><rect class="nb" x="633" y="539" width="73" height="24" rx="3"/><use href="#p" x="635" y="541"/><use href="#p" x="635" y="550"/><use href="#p" x="698" y="541"/><text class="nt" x="669.5" y="550.5">Trigger</text><text class="nt" x="669.5" y="560">Combiner</text>
<path class="lb" d="M574,540.45H629L633,543.75L629,547.05H574A3 3.3 0 0 1 574,540.45Z"/><text class="lt le" x="628" y="546.25">104 MBC TV 3.1</text>
<path class="lb" d="M552,549.45H629L633,552.75L629,556.05H552A3 3.3 0 0 1 552,549.45Z"/><text class="lt le" x="628" y="555.25">103 &amp; 104 MBC TV 3.1</text></g>
<g id="tc-b6"><rect class="nb" x="633" y="564" width="73" height="24" rx="3"/><use href="#p" x="635" y="566"/><use href="#p" x="635" y="575"/><use href="#p" x="698" y="566"/><text class="nt" x="669.5" y="575.5">Trigger</text><text class="nt" x="669.5" y="585">Combiner</text>
<path class="lb" d="M574,565.45H629L633,568.75L629,572.05H574A3 3.3 0 0 1 574,565.45Z"/><text class="lt le" x="628" y="571.25">104 MBC TV 3.2</text>
<path class="lb" d="M552,574.45H629L633,577.75L629,581.05H552A3 3.3 0 0 1 552,574.45Z"/><text class="lt le" x="628" y="580.25">103 &amp; 104 MBC TV 3.2</text></g>

<g id="d104"><text class="dt" x="895" y="429">D104</text>
<rect class="hd" x="857" y="438" width="75" height="25" rx="3"/><rect class="bd" x="859" y="463" width="70" height="174" rx="2"/>
<text class="nt" x="894.5" y="449.5">Command</text><text class="nt" x="894.5" y="460.5">Buttons</text>
<use href="#p" x="861" y="467.25"/><text class="rt" x="870" y="472.7">Command...</text><use href="#p" x="921" y="467.25"/>
<use href="#p" x="861" y="476.25"/><text class="rt" x="870" y="481.7">Command...</text><use href="#p" x="921" y="476.25"/>
<use href="#p" x="861" y="485.25"/><text class="rt" x="870" y="490.7">Command...</text><use href="#p" x="921" y="485.25"/>
<use href="#p" x="861" y="494.25"/><text class="rt" x="870" y="499.7">Command...</text><use href="#p" x="921" y="494.25"/>
<use href="#p" x="861" y="503.25"/><text class="rt" x="870" y="508.7">Command...</text><use href="#p" x="921" y="503.25"/>
<use href="#p" x="861" y="512.25"/><text class="rt" x="870" y="517.7">Command...</text><use href="#p" x="921" y="512.25"/>
<use href="#p" x="861" y="521.25"/><text class="rt" x="870" y="526.7">Command...</text><use href="#p" x="921" y="521.25"/>
<use href="#p" x="861" y="530.25"/><text class="rt" x="870" y="535.7">Command...</text><use href="#p" x="921" y="530.25"/>
<use href="#p" x="861" y="539.25"/><text class="rt" x="870" y="544.7">Command...</text><use href="#p" x="921" y="539.25"/>
<use href="#p" x="861" y="548.25"/><text class="rt" x="870" y="553.7">Command...</text><use href="#p" x="921" y="548.25"/>
<use href="#p" x="861" y="557.25"/><text class="rt" x="870" y="562.7">Command...</text><use href="#p" x="921" y="557.25"/>
<use href="#p" x="861" y="566.25"/><text class="rt" x="870" y="571.7">Command...</text><use href="#p" x="921" y="566.25"/>
<use href="#p" x="861" y="575.25"/><text class="rt" x="870" y="580.7">Command...</text><use href="#p" x="921" y="575.25"/>
<use href="#p" x="861" y="584.25"/><text class="rt" x="870" y="589.7">Command...</text><use href="#p" x="921" y="584.25"/>
<use href="#p" x="861" y="593.25"/><text class="rt" x="870" y="598.7">Command...</text><use href="#p" x="921" y="593.25"/>
<use href="#p" x="861" y="602.25"/><text class="rt" x="870" y="607.7">Command...</text><use href="#p" x="921" y="602.25"/>
<use href="#p" x="861" y="611.25"/><text class="rt" x="870" y="616.7">Command...</text><use href="#p" x="921" y="611.25"/>
<use href="#p" x="861" y="620.25"/><text class="rt" x="870" y="625.7">Command...</text><use href="#p" x="921" y="620.25"/>
<text class="rt" x="871" y="634.7">Status</text><use href="#p" x="921" y="629.25"/>
<path class="lb" d="M783,466.7H857L861,470L857,473.3H783A3 3.3 0 0 1 783,466.7Z"/><text class="lt le" x="856" y="472.5">104 VOLUME STRING</text>
<path class="lb" d="M779,475.7H857L861,479L857,482.3H779A3 3.3 0 0 1 779,475.7Z"/><text class="lt le" x="856" y="481.5">104 VOLUME TRIGGER</text>
<path class="lb" d="M781,502.7H857L861,506L857,509.3H781A3 3.3 0 0 1 781,502.7Z"/><text class="lt le" x="856" y="508.5">104 HDMI CHECKING</text>
<path class="lb" d="M749,565.7H857L861,569L857,572.3H749A3 3.3 0 0 1 749,565.7Z"/><text class="lt le" x="856" y="571.5">103 &amp; 104 TV VOLUME STRING</text>
<path class="lb" d="M744,574.7H857L861,578L857,581.3H744A3 3.3 0 0 1 744,574.7Z"/><text class="lt le" x="856" y="580.5">103 &amp; 104 TV VOLUME TRIGGER</text>
<path class="lb" d="M776,583.7H857L861,587L857,590.3H776A3 3.3 0 0 1 776,583.7Z"/><text class="lt le" x="856" y="589.5">104 HDMI CHECKING 2</text>
<path class="lb" d="M776,592.7H857L861,596L857,599.3H776A3 3.3 0 0 1 776,592.7Z"/><text class="lt le" x="856" y="598.5">104 HDMI CHECKING 3</text>
<path class="lb" d="M776,601.7H857L861,605L857,608.3H776A3 3.3 0 0 1 776,601.7Z"/><text class="lt le" x="856" y="607.5">104 HDMI CHECKING 4</text>
<path class="lb" d="M767,610.7H857L861,614L857,617.3H767A3 3.3 0 0 1 767,610.7Z"/><text class="lt le" x="856" y="616.5">103 &amp; 104 MBC TV SETUP</text>
<path class="lb" d="M761,619.7H857L861,623L857,626.3H761A3 3.3 0 0 1 761,619.7Z"/><text class="lt le" x="856" y="625.5">103 &amp; 104 MBC TV SETUP 2</text>
<path class="lb" d="M930,632L934,628.7H981A3 3.3 0 0 1 981,635.3H934Z"/><text class="lt" x="935" y="634.5">104 TV WARN</text></g>
</svg>
